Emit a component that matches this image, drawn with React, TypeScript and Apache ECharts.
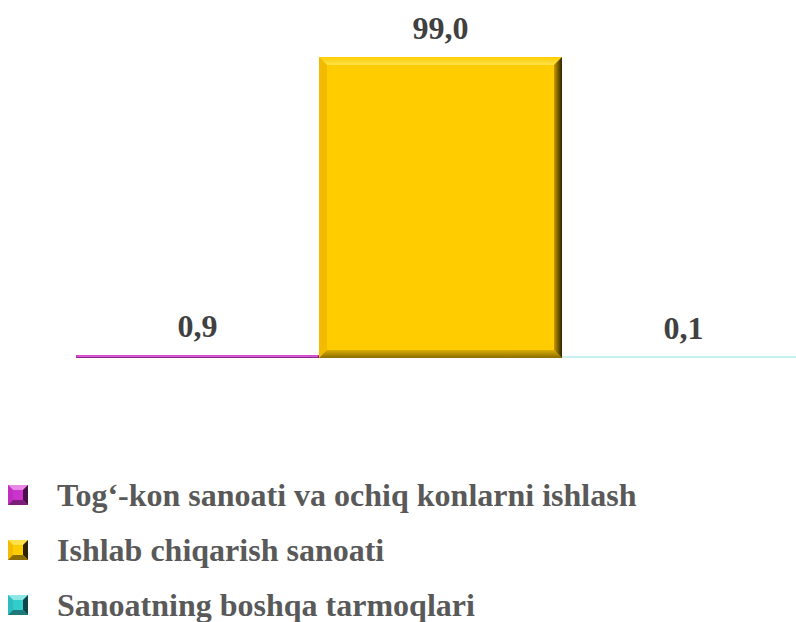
import React, { useEffect, useRef } from "react";
import * as echarts from "echarts";

const categories = [
  "Tog‘-kon sanoati va ochiq konlarni ishlash",
  "Ishlab chiqarish sanoati",
  "Sanoatning boshqa tarmoqlari",
];
const values = [0.9, 99.0, 0.1];

type Pal = { base: string; light: string; left: string; right: [string, string]; bottom: [string, string]; thin: string };
const palettes: Pal[] = [
  { base: "#CC33CC", light: "#E78AE7", left: "#C02EC0", right: ["#9A239A", "#4A104A"], bottom: ["#B82DB8", "#7A1E7A"], thin: "#D95CD9" },
  { base: "#FFCC00", light: "#FFE24A", left: "#F2BA00", right: ["#C79A00", "#2E2300"], bottom: ["#D9AE00", "#8A6C00"], thin: "#FFCC00" },
  { base: "#33CCCC", light: "#8FE6E6", left: "#2DBDBD", right: ["#239A9A", "#0E4545"], bottom: ["#2DB8B8", "#1E7A7A"], thin: "#C9F0F0" },
];

const FONT = "Liberation Serif";

function iconUrl(p: Pal) {
  const svg =
    `<svg xmlns='http://www.w3.org/2000/svg' width='16' height='16' viewBox='0 0 16 16'>` +
    `<rect width='16' height='16' fill='${p.base}'/>` +
    `<polygon points='0,0 16,0 8,8' fill='${p.light}'/>` +
    `<polygon points='0,0 8,8 0,16' fill='${p.left}'/>` +
    `<polygon points='16,0 16,16 8,8' fill='${p.right[1]}'/>` +
    `<polygon points='0,16 16,16 8,8' fill='${p.bottom[1]}'/>` +
    `<rect x='4' y='4' width='8' height='8' fill='${p.base}'/>` +
    `</svg>`;
  return "image://data:image/svg+xml;charset=utf-8," + encodeURIComponent(svg);
}

const fmt = (v: number) => v.toFixed(1).replace(".", ",");

export default function App() {
  const ref = useRef<HTMLDivElement>(null);
  useEffect(() => {
    if (!ref.current) return;
    const chart = echarts.init(ref.current, undefined, { renderer: "svg" });
    const series = categories.map((name, i) => ({
      name,
      type: "custom",
      data: [[i, values[i]]],
      itemStyle: { color: palettes[i].base },
      renderItem: (params: any, api: any) => {
        const p = palettes[i];
        const xv = api.value(0);
        const v = api.value(1);
        const top = api.coord([xv, v]);
        const base = api.coord([xv, 0]);
        const w = api.size([1, 0])[0];
        const x0 = top[0] - w / 2;
        const x1 = top[0] + w / 2;
        const yTop = top[1];
        const y1 = base[1];
        const h = y1 - yTop;
        const children: any[] = [];
        if (h < 1.5) {
          children.push({ type: "rect", shape: { x: x0, y: y1 - 2, width: w, height: 2 }, style: { fill: p.thin } });
        } else {
          const y0 = yTop;
          const b = Math.min(8, h / 2, w / 2);
          children.push({ type: "rect", shape: { x: x0, y: y0, width: w, height: h }, style: { fill: p.base } });
          children.push({
            type: "polygon",
            shape: { points: [[x0, y0], [x1, y0], [x1 - b, y0 + b], [x0 + b, y0 + b]] },
            style: {
              fill: new echarts.graphic.LinearGradient(0, 0, 0, 1, [
                { offset: 0, color: p.base },
                { offset: 1, color: p.light },
              ]),
            },
          });
          children.push({
            type: "polygon",
            shape: { points: [[x0, y0], [x0 + b, y0 + b], [x0 + b, y1 - b], [x0, y1]] },
            style: { fill: p.left },
          });
          children.push({
            type: "polygon",
            shape: { points: [[x0, y1], [x1, y1], [x1 - b, y1 - b], [x0 + b, y1 - b]] },
            style: {
              fill: new echarts.graphic.LinearGradient(0, 0, 0, 1, [
                { offset: 0, color: p.bottom[0] },
                { offset: 1, color: p.bottom[1] },
              ]),
            },
          });
          children.push({
            type: "polygon",
            shape: { points: [[x1, y0], [x1, y1], [x1 - b, y1 - b], [x1 - b, y0 + b]] },
            style: {
              fill: new echarts.graphic.LinearGradient(0, 0, 1, 0, [
                { offset: 0, color: p.right[0] },
                { offset: 1, color: p.right[1] },
              ]),
            },
          });
        }
        children.push({
          type: "text",
          style: {
            text: fmt(v),
            x: top[0],
            y: yTop - 29.5,
            align: "center",
            verticalAlign: "middle",
            fontFamily: FONT,
            fontWeight: "bold",
            fontSize: 32,
            fill: "#404040",
          },
        });
        return { type: "group", children };
      },
    }));

    chart.setOption({
      animation: false,
      backgroundColor: "#ffffff",
      grid: { left: 76, top: 57, right: 0, height: 301, containLabel: false },
      xAxis: { type: "category", data: categories, show: false, boundaryGap: true },
      yAxis: { type: "value", min: 0, max: 99, show: false },
      legend: {
        orient: "vertical",
        left: 8,
        top: 478,
        padding: 0,
        itemWidth: 20,
        itemHeight: 20,
        itemGap: 21,
        selectedMode: false,
        data: categories.map((name, i) => ({ name, icon: iconUrl(palettes[i]) })),
        textStyle: {
          fontFamily: FONT,
          fontWeight: "bold",
          fontSize: 32,
          lineHeight: 34,
          color: "#595959",
          padding: [0, 0, 0, 24],
        },
      },
      series,
    });
    return () => chart.dispose();
  }, []);
  return (
    <div style={{ position: "absolute", left: 0, top: 0, width: 796, height: 622, overflow: "hidden", background: "#fff" }}>
      <div ref={ref} style={{ width: 805, height: 622 }} />
    </div>
  );
}
